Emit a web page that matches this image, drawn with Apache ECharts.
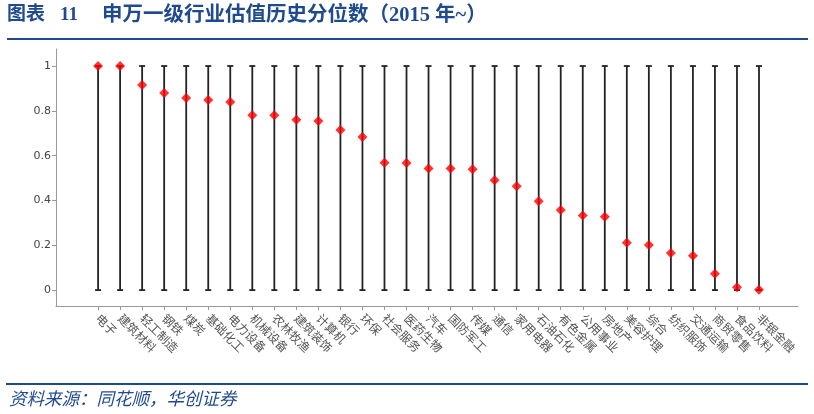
<!DOCTYPE html>
<html>
<head>
<meta charset="utf-8">
<script src="https://cdn.jsdelivr.net/npm/echarts@6/dist/echarts.min.js"></script>
<style>
	html, body { margin: 0; padding: 0; background: #fff; }
	#main { width: 814px; height: 414px; }
</style>
</head>
<body>
<div id="main"></div>
<script>
	/*---------- 数据 ----------*/
	var industries = ['电子', '建筑材料', '轻工制造', '钢铁', '煤炭', '基础化工', '电力设备', '机械设备', '农林牧渔', '建筑装饰',
		'计算机', '银行', '环保', '社会服务', '医药生物', '汽车', '国防军工', '传媒', '通信', '家用电器',
		'石油石化', '有色金属', '公用事业', '房地产', '美容护理', '综合', '纺织服饰', '交通运输', '商贸零售', '食品饮料', '非银金融'];
	var percentile = [1, 1, 0.915, 0.88, 0.857, 0.848, 0.84, 0.78, 0.78, 0.76,
		0.755, 0.714, 0.683, 0.568, 0.567, 0.543, 0.543, 0.539, 0.49, 0.464,
		0.396, 0.358, 0.333, 0.327, 0.211, 0.201, 0.166, 0.153, 0.073, 0.013, 0.002];
	var rangeLow = 0;
	var rangeHigh = 1;
	var yTicks = [0, 0.2, 0.4, 0.6, 0.8, 1];
	/*-------------------------*/

	var idx = [];
	var rangeData = [];
	var pointData = [];
	for (var i = 0; i < industries.length; i++) {
		idx.push(i);
		rangeData.push([i, rangeLow, rangeHigh]);
		pointData.push([i, percentile[i]]);
	}

	var blue = '#1f4b8e';
	var titleFont = '"Liberation Serif", "Noto Sans CJK SC", serif';

	var myChart = echarts.init(document.getElementById('main'), null, { renderer: 'canvas' });
	myChart.setOption({
		animation: false,
		grid: {
			left: 56,
			right: 16,
			top: 49,
			bottom: 108
		},
		xAxis: {
			type: 'value',
			min: -1.91,
			max: 31.77,
			splitLine: { show: false },
			axisLine: {
				onZero: false,
				lineStyle: { color: '#999', width: 1 }
			},
			axisTick: {
				customValues: idx,
				length: 4,
				lineStyle: { color: '#999' }
			},
			axisLabel: {
				customValues: idx,
				rotate: -45,
				margin: 10,
				fontSize: 12,
				color: '#555',
				fontFamily: '"Noto Sans CJK SC", sans-serif',
				formatter: function(v) {
					return industries[v] || '';
				}
			}
		},
		yAxis: {
			type: 'value',
			min: -0.071,
			max: 1.076,
			splitLine: { show: false },
			axisLine: {
				show: true,
				onZero: false,
				lineStyle: { color: '#999', width: 1 }
			},
			axisTick: {
				show: true,
				customValues: yTicks,
				length: 4,
				lineStyle: { color: '#999' }
			},
			axisLabel: {
				customValues: yTicks,
				margin: 5,
				fontSize: 11,
				color: '#444',
				fontFamily: '"DejaVu Sans", sans-serif',
				formatter: function(v) {
					return String(Math.round(v * 10) / 10);
				}
			}
		},
		series: [
			{
				name: '区间',
				type: 'custom',
				z: 2,
				data: rangeData,
				renderItem: function(params, api) {
					var lo = api.coord([api.value(0), api.value(1)]);
					var hi = api.coord([api.value(0), api.value(2)]);
					var cap = 3;
					var style = { stroke: '#222', lineWidth: 1.8 };
					return {
						type: 'group',
						children: [
							{ type: 'line', shape: { x1: lo[0], y1: lo[1], x2: hi[0], y2: hi[1] }, style: style },
							{ type: 'line', shape: { x1: lo[0] - cap, y1: lo[1], x2: lo[0] + cap, y2: lo[1] }, style: style },
							{ type: 'line', shape: { x1: hi[0] - cap, y1: hi[1], x2: hi[0] + cap, y2: hi[1] }, style: style }
						]
					};
				}
			},
			{
				name: '分位数',
				type: 'scatter',
				z: 3,
				symbol: 'diamond',
				symbolSize: 10,
				itemStyle: { color: '#ff0000' },
				data: pointData
			}
		],
		graphic: [
			{
				type: 'text', left: 7, top: 6,
				style: { text: '图表', font: 'bold 19px ' + titleFont, fill: blue }
			},
			{
				type: 'text', left: 60, top: 6,
				style: { text: '11', font: 'bold 19px ' + titleFont, fill: blue }
			},
			{
				type: 'text', left: 102, top: 5,
				style: { text: '申万一级行业估值历史分位数（2015 年~）', font: 'bold 20.5px ' + titleFont, fill: blue }
			},
			{
				type: 'rect', shape: { x: 7, y: 38, width: 801, height: 2 },
				style: { fill: blue }
			},
			{
				type: 'rect', shape: { x: 6, y: 383, width: 802, height: 2 },
				style: { fill: blue }
			},
			{
				type: 'text', left: 9, top: 390,
				style: { text: '资料来源：同花顺，华创证券', font: 'italic 17.5px "Noto Sans CJK SC", sans-serif', fill: blue }
			}
		]
	});
</script>
</body>
</html>
